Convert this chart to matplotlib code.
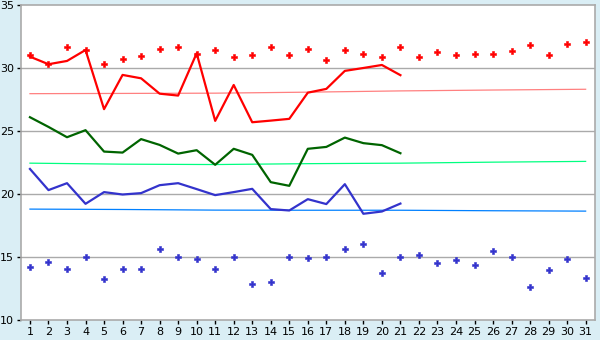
import numpy as np
import matplotlib
matplotlib.use("Agg")
import matplotlib.pyplot as plt

# days of month
days = list(range(1, 32))
days_line = list(range(1, 22))

# upper markers (red) and lower markers (blue), all 31 days
red_points = [31.03, 30.32, 31.67, 31.45, 30.32, 30.71, 30.95, 31.51, 31.67, 31.16,
              31.43, 30.87, 31.03, 31.69, 31.03, 31.51, 30.63, 31.43, 31.13, 30.87,
              31.67, 30.87, 31.27, 31.03, 31.11, 31.11, 31.35, 31.83, 31.03, 31.9, 32.06]
blue_points = [14.21, 14.6, 14.05, 15.0, 13.25, 14.05, 14.05, 15.63, 15.0, 14.84,
               14.05, 15.0, 12.86, 13.02, 15.0, 14.92, 15.0, 15.63, 16.03, 13.73,
               15.0, 15.16, 14.52, 14.76, 14.37, 15.48, 15.0, 12.62, 13.97, 14.84, 13.33]

# solid lines, first 21 days
red_line = [30.92, 30.32, 30.58, 31.45, 26.75, 29.47, 29.2, 27.98, 27.83, 31.19,
            25.82, 28.67, 25.71, 25.84, 25.98, 28.06, 28.36, 29.79, 30.02, 30.26, 29.45]
green_line = [26.11, 25.34, 24.52, 25.08, 23.38, 23.3, 24.37, 23.91, 23.22, 23.49,
              22.33, 23.6, 23.12, 20.95, 20.66, 23.6, 23.75, 24.49, 24.05, 23.89, 23.25]
blue_line = [22.0, 20.32, 20.87, 19.23, 20.16, 19.97, 20.08, 20.71, 20.87, 20.4,
             19.92, 20.16, 20.42, 18.81, 18.7, 19.6, 19.21, 20.79, 18.44, 18.62, 19.25]

# thin trend lines (read at a few days)
trend_x = [1, 6, 11, 16, 21, 26, 31]
pink_trend = [27.98, 28.0, 28.02, 28.1, 28.2, 28.27, 28.33]
green_trend = [22.46, 22.38, 22.35, 22.42, 22.46, 22.54, 22.6]
blue_trend = [18.81, 18.78, 18.73, 18.72, 18.72, 18.68, 18.65]

fig = plt.figure(figsize=(6, 3.4), dpi=100)
fig.patch.set_facecolor('#DAEEF5')
ax = fig.add_axes([0.0345, 0.0588, 0.957, 0.9256])
ax.set_facecolor('white')

for y in [15, 20, 25, 30]:
    ax.axhline(y, color='#AAAAAA', lw=1, zorder=1)

ax.plot(trend_x, pink_trend, color='#FF8080', lw=0.9, zorder=2)
ax.plot(trend_x, green_trend, color='#00FF80', lw=0.9, zorder=2)
ax.plot(trend_x, blue_trend, color='#0080FF', lw=0.9, zorder=2)

ax.plot(days_line, red_line, color='#FF0000', lw=1.6, zorder=3)
ax.plot(days_line, green_line, color='#006400', lw=1.6, zorder=3)
ax.plot(days_line, blue_line, color='#3333CC', lw=1.6, zorder=3)

ax.plot(days, red_points, 'P', color='#FF0000', ms=4.2, mew=0.4, ls='none', zorder=4)
ax.plot(days, blue_points, 'P', color='#3333CC', ms=4.2, mew=0.4, ls='none', zorder=4)

ax.set_xlim(0.5, 31.5)
ax.set_ylim(10, 35)
ax.set_xticks(days)
ax.set_yticks([10, 15, 20, 25, 30, 35])
ax.tick_params(axis='both', labelsize=8, color='black', length=3, width=1, pad=2)
for s in ax.spines.values():
    s.set_color('#AAAAAA')
    s.set_linewidth(1.2)

fig.savefig('out.png', dpi=100, facecolor=fig.get_facecolor())
